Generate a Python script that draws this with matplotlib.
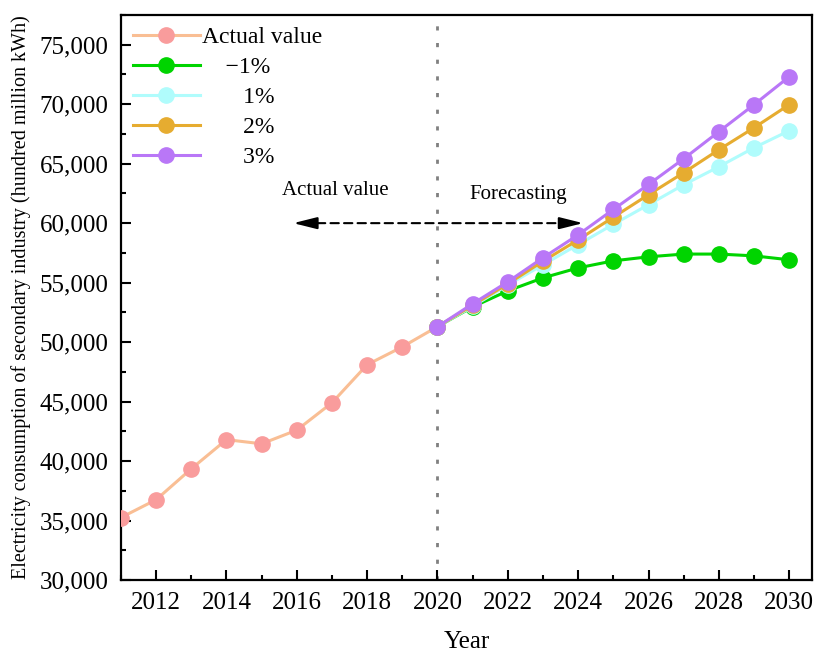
import numpy as np
import matplotlib
matplotlib.use("Agg")
import matplotlib.pyplot as plt
from matplotlib.ticker import FuncFormatter, MultipleLocator

plt.rcParams['font.family'] = ['Liberation Serif', 'DejaVu Serif']

# actual data 2011-2020
years_actual = [2011, 2012, 2013, 2014, 2015, 2016, 2017, 2018, 2019, 2020]
actual = [35250, 36750, 39350, 41800, 41450, 42600, 44900, 48100, 49600, 51300]

# forecasts 2020-2030
years_fc = list(range(2020, 2031))
fc_m1 = [51300, 52960, 54310, 55400, 56240, 56830, 57170, 57400, 57400, 57250, 56920]
fc_1 = [51300, 53000, 54800, 56500, 58200, 59900, 61550, 63230, 64740, 66340, 67770]
fc_2 = [51300, 53100, 54900, 56800, 58600, 60500, 62390, 64240, 66170, 68020, 69960]
fc_3 = [51300, 53220, 55070, 57090, 59020, 61150, 63250, 65410, 67690, 69960, 72310]

fig = plt.figure(figsize=(8.14, 6.57), dpi=100)
ax = fig.add_axes([0.1486, 0.1172, 0.849, 0.86])

ms = 11
lw = 2.2
ax.plot(years_actual, actual, '-o', color='#F9BE94', mfc='#F99C9C', mec='#F99C9C',
        ms=ms, lw=lw, label='Actual value', zorder=3)
ax.plot(years_fc, fc_m1, '-o', color='#00D400', ms=ms, lw=lw, label='    \u22121%', zorder=3)
ax.plot(years_fc, fc_1, '-o', color='#B0FCFC', ms=ms, lw=lw, label='       1%', zorder=3)
ax.plot(years_fc, fc_2, '-o', color='#E6AC30', ms=ms, lw=lw, label='       2%', zorder=4)
ax.plot(years_fc, fc_3, '-o', color='#B977F7', ms=ms, lw=lw, label='       3%', zorder=5)

ax.axvline(2020, color='#808080', ls=(0, (1.5, 4.5)), lw=2, zorder=1)

# dashed double arrow: Actual value <-- 2020 --> Forecasting
left_tip, right_tip, arrow_y = 2015.9, 2024.14, 60000
ax.annotate('', xy=(left_tip + 0.4, arrow_y), xytext=(right_tip - 0.4, arrow_y),
            arrowprops=dict(arrowstyle='-', ls=(0, (4, 2.5)), color='black', lw=1.5,
                            shrinkA=0, shrinkB=0))
for tip, back in ((left_tip, left_tip + 0.6), (right_tip, right_tip - 0.6)):
    ax.annotate('', xy=(tip, arrow_y), xytext=(back, arrow_y),
                arrowprops=dict(arrowstyle='-|>,head_length=0.8,head_width=0.2',
                                color='black', lw=1.5, mutation_scale=18,
                                shrinkA=0, shrinkB=0))
ax.text(2017.1, 62750, 'Actual value', fontsize=15, ha='center', va='center')
ax.text(2022.3, 62450, 'Forecasting', fontsize=15, ha='center', va='center')

ax.set_xlim(2011, 2030.65)
ax.set_ylim(30000, 77500)
ax.xaxis.set_minor_locator(MultipleLocator(1))
ax.yaxis.set_major_locator(MultipleLocator(5000))
ax.yaxis.set_minor_locator(MultipleLocator(2500))
ax.yaxis.set_major_formatter(FuncFormatter(lambda v, p: f'{int(v):,}'))
ax.set_xticks(range(2012, 2031, 2))

ax.tick_params(axis='both', which='major', direction='in', length=7, width=1.5,
               labelsize=18, pad=9)
ax.tick_params(axis='both', which='minor', direction='in', length=3.6, width=1.5)
for s in ax.spines.values():
    s.set_linewidth(1.6)

ax.set_xlabel('Year', fontsize=18, labelpad=12)
ax.set_ylabel('Electricity consumption of secondary industry (hundred million kWh)',
              fontsize=14.5, labelpad=6)

ax.legend(loc='upper left', frameon=False, fontsize=17, handlelength=2.85,
          borderaxespad=0.2, labelspacing=0.36, handletextpad=0.1, borderpad=0.3)

fig.savefig('out.png', dpi=100)
